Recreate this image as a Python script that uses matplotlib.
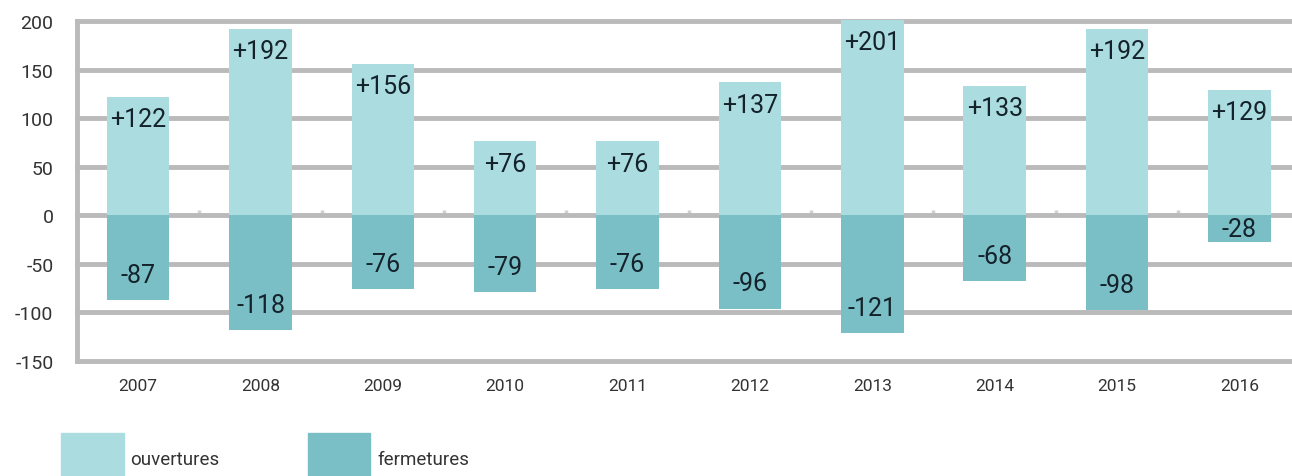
import matplotlib.pyplot as plt
from matplotlib.patches import Rectangle

# ouvertures / fermetures par an
years = ['2007', '2008', '2009', '2010', '2011', '2012', '2013', '2014', '2015', '2016']
ouvertures = [122, 192, 156, 76, 76, 137, 201, 133, 192, 129]
fermetures = [-87, -118, -76, -79, -76, -96, -121, -68, -98, -28]
yticks = [-150, -100, -50, 0, 50, 100, 150, 200]

light = '#abdcdf'
dark = '#7abec6'
grid = '#bababa'

plt.rcParams['font.family'] = ['Roboto', 'DejaVu Sans']

fig = plt.figure(figsize=(12.92, 4.77), dpi=100)
ax = fig.add_axes([77 / 1292, 1 - 362 / 477, 1 - 77 / 1292, (362 - 22) / 477])

x = list(range(len(years)))
ax.bar(x, ouvertures, width=0.51, color=light, zorder=2, clip_on=False)
ax.bar(x, fermetures, width=0.51, color=dark, zorder=2, clip_on=False)

# labels inside the bars
for i in x:
    ax.text(i, ouvertures[i] - 23, '+%d' % ouvertures[i], ha='center', va='center',
            fontsize=18, color='#14232b', zorder=3)
    v = fermetures[i]
    ax.text(i, min(v + 26, v / 2), '%d' % v, ha='center', va='center',
            fontsize=18, color='#14232b', zorder=3)

# little marks on the zero line between the bars
mids = [i + 0.5 for i in x[:-1]]
ax.vlines(mids, 0, 5, color='#d0d0d0', lw=2.5, zorder=1)

ax.set_xlim(-0.5, 9.43)
ax.set_ylim(-150, 200)
ax.set_yticks(yticks)
ax.set_yticklabels([str(t) for t in yticks])
ax.set_xticks(x)
ax.set_xticklabels(years)
ax.tick_params(axis='y', length=0, pad=17, labelsize=14, labelcolor='#333333')
ax.tick_params(axis='x', length=0, pad=12, labelsize=12.5, labelcolor='#333333')

for t in yticks:
    ax.axhline(t, color=grid, lw=3.5, zorder=1, clip_on=False)
for s in ['top', 'right', 'bottom']:
    ax.spines[s].set_visible(False)
ax.spines['left'].set_color(grid)
ax.spines['left'].set_linewidth(3.5)

# legend
fig.patches.append(Rectangle((61 / 1292, 0), 63 / 1292, 43 / 477, transform=fig.transFigure,
                             color=light))
fig.patches.append(Rectangle((308 / 1292, 0), 62 / 1292, 43 / 477, transform=fig.transFigure,
                             color=dark))
fig.text(130 / 1292, 1 - 460 / 477, 'ouvertures', ha='left', va='center', fontsize=13.5,
         color='#333333')
fig.text(377 / 1292, 1 - 460 / 477, 'fermetures', ha='left', va='center', fontsize=13.5,
         color='#333333')

fig.savefig('out.png', dpi=100)
